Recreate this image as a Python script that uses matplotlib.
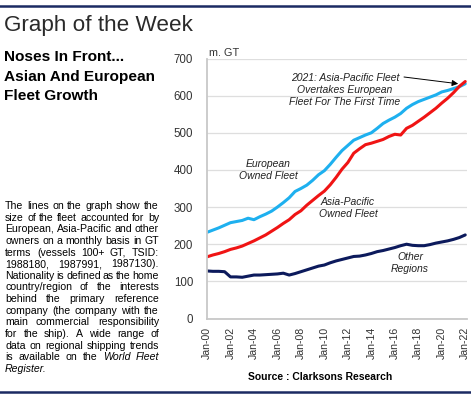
import matplotlib
matplotlib.use("Agg")
import matplotlib.pyplot as plt
import numpy as np
from matplotlib.lines import Line2D

plt.rcParams['font.family'] = ['Liberation Sans', 'DejaVu Sans']

# ---------------- data (semi-annual readings, m. GT) ----------------
years = [2000 + 0.5 * i for i in range(45)]
european = [232, 238, 244, 251, 258, 261, 264, 270, 266, 274, 281, 289, 300, 312,
            325, 342, 350, 359, 372, 387, 398, 415, 434, 452, 466, 480, 487, 494,
            500, 512, 525, 534, 542, 552, 566, 576, 584, 590, 596, 602, 610, 614,
            619, 624, 632]
asia_pacific = [166, 171, 175, 180, 186, 190, 195, 202, 209, 217, 225, 235, 245, 256,
                266, 280, 290, 305, 318, 331, 343, 360, 380, 402, 420, 445, 457, 468,
                472, 477, 482, 490, 496, 494, 512, 520, 531, 542, 554, 566, 580, 593,
                608, 625, 638]
other = [128, 127, 127, 126, 112, 112, 111, 114, 117, 117, 118, 119, 120, 122,
         117, 121, 126, 131, 136, 141, 144, 150, 155, 159, 163, 167, 168, 171,
         175, 180, 183, 187, 191, 196, 200, 197, 196, 196, 199, 203, 206, 209,
         213, 218, 225]
tick_years = list(range(2000, 2023, 2))
tick_labels = ["Jan-%02d" % (y % 100) for y in tick_years]
yticks = [0, 100, 200, 300, 400, 500, 600, 700]

W, H = 471, 397
fig = plt.figure(figsize=(W / 100, H / 100), dpi=100)

def fx(px):
    return px / W

def fy(py):
    return 1 - py / H

navy = '#1b2a63'
# top and bottom rules
fig.add_artist(Line2D([0, 1], [fy(6), fy(6)], color=navy, lw=1.8, transform=fig.transFigure))
fig.add_artist(Line2D([0, 1], [fy(392), fy(392)], color=navy, lw=1.8, transform=fig.transFigure))

fig.text(fx(4), fy(31.5), "Graph of the Week", fontsize=16.2, color='#2a2a2a',
         va='baseline', ha='left')
for i, s in enumerate(["Noses In Front...", "Asian And European", "Fleet Growth"]):
    fig.text(fx(4), fy(61 + 19.5 * i), s, fontsize=11.1, fontweight='bold',
             color='black', va='baseline', ha='left')

# ---------------- axes ----------------
ax_left, ax_right, ax_top, ax_bottom = 207, 467, 58.5, 318.5
ax = fig.add_axes([fx(ax_left), fy(ax_bottom), (ax_right - ax_left) / W,
                   (ax_bottom - ax_top) / H])
ax.plot(years, other, color='#0c1a5c', lw=2.2, solid_capstyle='round')
ax.plot(years, european, color='#1eb0ef', lw=2.2, solid_capstyle='round')
ax.plot(years, asia_pacific, color='#f01414', lw=2.2, solid_capstyle='round')
ax.set_xlim(2000, 2022.15)
ax.set_ylim(0, 700)
ax.set_yticks(yticks)
ax.set_xticks(tick_years)
ax.set_xticklabels(tick_labels, rotation=90)
ax.tick_params(axis='both', length=0, labelcolor='#333333')
ax.tick_params(axis='y', pad=10, labelsize=8.3)
ax.tick_params(axis='x', pad=6, labelsize=7.6)
ax.grid(axis='y', color='#dedede', lw=0.9)
ax.set_axisbelow(True)
for s in ['top', 'right']:
    ax.spines[s].set_visible(False)
for s in ['left', 'bottom']:
    ax.spines[s].set_color('#c8c8c8')
    ax.spines[s].set_linewidth(1.3)

fig.text(fx(209), fy(53), "m. GT", fontsize=7.8, color='#333333', va='center', ha='left')

# annotations (italic)
def atext(px, py, s):
    fig.text(fx(px), fy(py), s, fontsize=7.5, style='italic', color='#222222',
             ha='center', va='center', linespacing=1.25)

atext(345, 90, "2021: Asia-Pacific Fleet\nOvertakes European\nFleet For The First Time")
atext(268, 170, "European\nOwned Fleet")
atext(348, 208, "Asia-Pacific\nOwned Fleet")
atext(410, 263, "Other\nRegions")
ax.annotate("", xy=(2021.4, 632), xycoords='data',
            xytext=(fx(404), fy(77)), textcoords='figure fraction',
            arrowprops=dict(arrowstyle='-|>', color='black', lw=0.7,
                            mutation_scale=9, shrinkA=0, shrinkB=0))

fig.text(fx(320), fy(377), "Source : Clarksons Research", fontsize=7.5,
         fontweight='bold', ha='center', va='center', color='black')

# ---------------- justified body text ----------------
body_lines = [
    "The lines on the graph show the",
    "size of the fleet accounted for by",
    "European, Asia-Pacific and other",
    "owners on a monthly basis in GT",
    "terms (vessels 100+ GT, TSID:",
    "1988180, 1987991, 1987130).",
    "Nationality is defined as the home",
    "country/region of the interests",
    "behind the primary reference",
    "company (the company with the",
    "main commercial responsibility",
    "for the ship). A wide range of",
    "data on regional shipping trends",
    "is available on the *World *Fleet",
    "*Register.*",
]
renderer = fig.canvas.get_renderer()
x0, x1 = 5, 159
base0, step = 209, 11.64
for li, line in enumerate(body_lines):
    words = line.split(' ')
    py = base0 + step * li
    texts = []
    widths = []
    for w in words:
        st = 'normal'
        if w.startswith('*'):
            st = 'italic'
            w = w.strip('*')
        t = fig.text(0, fy(py), w, fontsize=7.6, style=st, color='black',
                     va='baseline', ha='left')
        widths.append(t.get_window_extent(renderer).width)
        texts.append(t)
    last = (li == len(body_lines) - 1)
    n = len(texts)
    if n > 1 and not last:
        gap = max((x1 - x0 - sum(widths)) / (n - 1), 1.8)
    else:
        gap = 3.0
    x = x0
    for t, w in zip(texts, widths):
        t.set_x(fx(x))
        x += w + gap

fig.savefig("out.png", dpi=100)
